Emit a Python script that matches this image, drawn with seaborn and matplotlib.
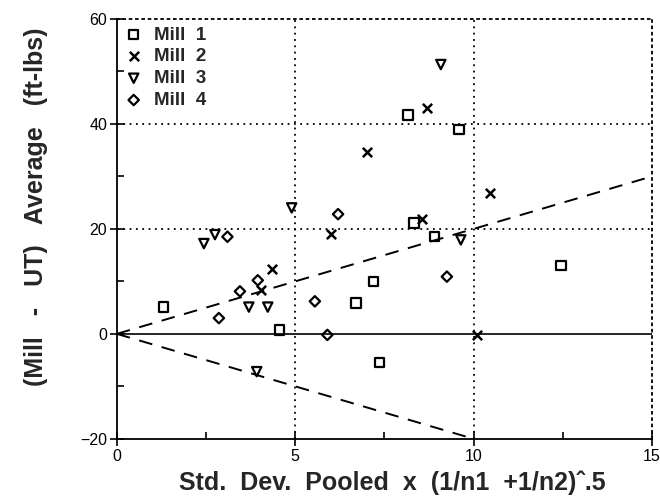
import matplotlib
matplotlib.use("Agg")
import matplotlib.pyplot as plt
import seaborn as sns
import numpy as np
from matplotlib.ticker import MultipleLocator

sns.set_theme(style="white")
plt.rcParams['font.family'] = ['Liberation Sans', 'DejaVu Sans']

# Data
mill1_x = [1.3, 4.55, 6.7, 7.2, 7.37, 8.16, 9.59, 8.33, 8.9, 12.45]
mill1_y = [5.1, 0.75, 5.9, 10.0, -5.5, 41.7, 38.9, 21.1, 18.5, 13.0]
mill2_x = [7.0, 8.69, 4.35, 6.0, 4.05, 8.55, 10.46, 10.1]
mill2_y = [34.7, 43.0, 12.4, 19.0, 8.3, 21.9, 26.8, -0.2]
mill3_x = [9.08, 4.9, 2.44, 2.75, 3.7, 4.23, 9.64, 3.92]
mill3_y = [51.3, 24.0, 17.2, 18.9, 5.1, 5.1, 17.9, -7.2]
mill4_x = [3.1, 6.2, 2.86, 3.45, 3.95, 5.55, 5.9, 9.25]
mill4_y = [18.5, 22.8, 3.0, 8.1, 10.2, 6.2, -0.2, 10.9]

series = ["Mill  1", "Mill  2", "Mill  3", "Mill  4"]
xs = [mill1_x, mill2_x, mill3_x, mill4_x]
ys = [mill1_y, mill2_y, mill3_y, mill4_y]

# reference lines y = +/- slope * x
ref_upper_x = [0, 15]
ref_lower_x = [0, 10]
ref_slope = 2.0

x_ticks = [0, 5, 10, 15]
y_ticks = [-20, 0, 20, 40, 60]

fig = plt.figure(figsize=(6.6, 4.97), dpi=100)
ax = fig.add_axes([0.177, 0.117, 0.811, 0.845])

markers = ['s', 'x', 'v', 'D']
sizes = [45, 45, 45, 28]
for name, x, y, m, s in zip(series, xs, ys, markers, sizes):
    if m == 'x':
        sns.scatterplot(x=x, y=y, marker=m, s=s, color='black', linewidth=1.8,
                        label=name, ax=ax, zorder=5)
    else:
        sns.scatterplot(x=x, y=y, marker=m, s=s, facecolor='none',
                        edgecolor='black', linewidth=1.6, label=name, ax=ax, zorder=5)

ux = np.array(ref_upper_x, dtype=float)
lx = np.array(ref_lower_x, dtype=float)
sns.lineplot(x=ux, y=ref_slope * ux, color='black', linestyle=(0, (7, 5)), lw=1.4, ax=ax)
sns.lineplot(x=lx, y=-ref_slope * lx, color='black', linestyle=(0, (7, 5)), lw=1.4, ax=ax)
ax.axhline(0, color='black', lw=1.2, zorder=2)

ax.set_xlim(0, 15)
ax.set_ylim(-20, 60)
ax.set_xticks(x_ticks)
ax.set_yticks(y_ticks)
ax.xaxis.set_minor_locator(MultipleLocator(2.5))
ax.yaxis.set_minor_locator(MultipleLocator(10))

for v in [5, 10]:
    ax.axvline(v, color='black', linestyle=(0, (1, 2.5)), lw=1.3, zorder=1)
for v in [20, 40]:
    ax.axhline(v, color='black', linestyle=(0, (1, 2.5)), lw=1.3, zorder=1)

for side in ['top', 'right']:
    ax.spines[side].set_linestyle((0, (1, 2.5)))
    ax.spines[side].set_linewidth(1.3)
    ax.spines[side].set_color('black')
for side in ['left', 'bottom']:
    ax.spines[side].set_linewidth(1.3)
    ax.spines[side].set_color('black')

ax.tick_params(which='major', direction='inout', length=10, width=1.2, colors='black',
               labelsize=11.5, bottom=True, left=True, pad=2)
ax.tick_params(which='minor', direction='in', length=5, width=1.2, colors='black',
               bottom=True, left=True)

ax.set_xlabel("Std.  Dev.  Pooled  x  (1/n1  +1/n2)\u02c6.5", fontsize=18,
              fontweight='bold', labelpad=2)
ax.xaxis.set_label_coords(0.515, -0.075)
ax.set_ylabel("(Mill   -   UT)   Average   (ft-lbs)", fontsize=18,
              fontweight='bold')
ax.yaxis.set_label_coords(-0.128, 0.552)

leg = ax.legend(loc='upper left', frameon=False, handletextpad=0.6,
                borderaxespad=0.1, labelspacing=0.25, handlelength=1.0,
                borderpad=0.3, prop={'weight': 'bold', 'size': 13.5})

fig.savefig("out.png", dpi=100)
